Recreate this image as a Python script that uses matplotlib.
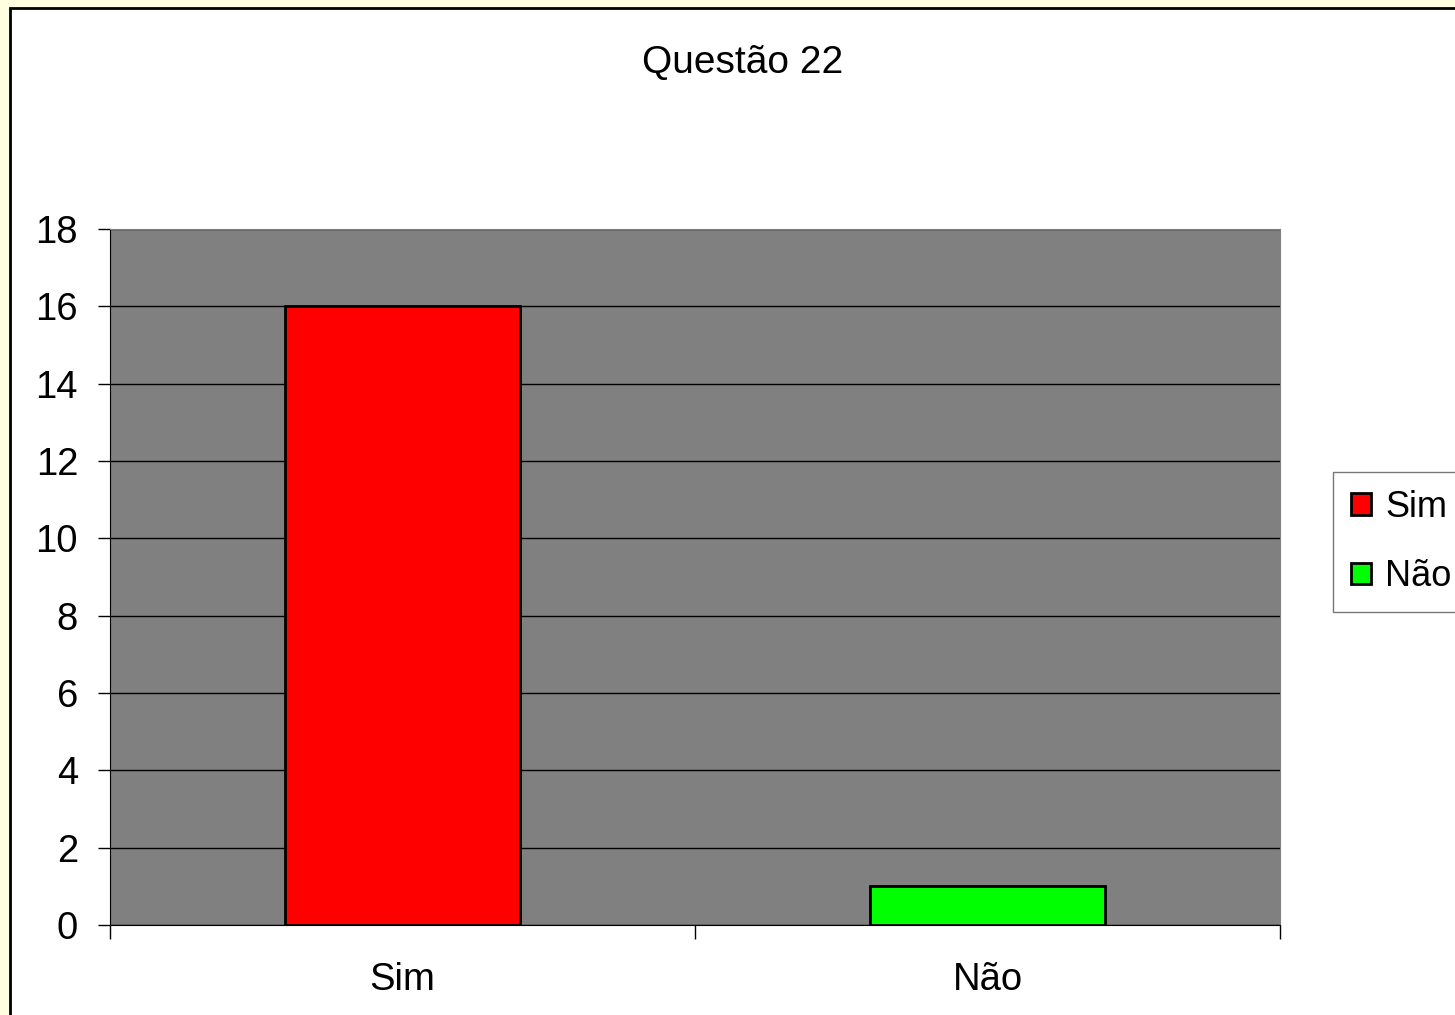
import matplotlib
matplotlib.use('Agg')
import matplotlib.pyplot as plt
from matplotlib.patches import Rectangle, Patch

plt.rcParams['font.family'] = ['Liberation Sans', 'DejaVu Sans']

categories = ['Sim', 'Não']
values = [16, 1]
colors = ['#FF0000', '#00FF00']
yticks = [0, 2, 4, 6, 8, 10, 12, 14, 16, 18]
title = 'Questão 22'

W, H = 1455, 1015
fig = plt.figure(figsize=(W / 100, H / 100), dpi=100)
fig.patch.set_facecolor('#FFFFE0')

# white chart area with black frame (runs off right/bottom edge)
fig.patches.append(Rectangle((10 / W, -0.05), 1.1, 1 - 8 / H + 0.05,
                             transform=fig.transFigure, facecolor='white',
                             edgecolor='black', linewidth=2, zorder=-5))

ax = fig.add_axes([110 / W, 1 - 925 / H, 1170 / W, (925 - 229) / H])
ax.set_zorder(2)
ax.set_facecolor('#808080')
x = range(len(categories))
ax.bar(x, values, width=0.402, color=colors, edgecolor='black', linewidth=2, zorder=3)
ax.set_xlim(-0.5, 1.5)
ax.set_ylim(0, 18)
ax.set_yticks(yticks)
ax.yaxis.grid(True, color='black', linewidth=1)
ax.set_axisbelow(True)

ax.set_xticks(x)
ax.set_xticklabels(categories, fontsize=27.5)
ax.tick_params(axis='x', length=0, pad=27)
ax.set_xticks([-0.5, 0.5, 1.5], minor=True)
ax.tick_params(axis='x', which='minor', length=10, width=1, direction='out')
ax.tick_params(axis='y', labelsize=27.5, length=9, width=1, direction='out', pad=14)

for side in ['top', 'right']:
    ax.spines[side].set_color('#808080')
ax.spines['left'].set_color('black')
ax.spines['bottom'].set_color('black')

fig.text(743 / W, 1 - 63 / H, title, fontsize=28, ha='center', va='center')

handles = [Patch(facecolor=c, edgecolor='black', linewidth=2) for c in colors]
leg = fig.legend(handles, categories, loc='upper left',
                 bbox_to_anchor=(1333 / W, 1 - 472 / H), fontsize=26,
                 frameon=True, fancybox=False, handlelength=0.55, handleheight=0.55,
                 handletextpad=0.4, labelspacing=0.95, borderpad=0.5, borderaxespad=0)
leg.set_zorder(3)
leg.get_frame().set_edgecolor('#555555')
leg.get_frame().set_linewidth(1)

fig.savefig('out.png', dpi=100, facecolor=fig.get_facecolor())
